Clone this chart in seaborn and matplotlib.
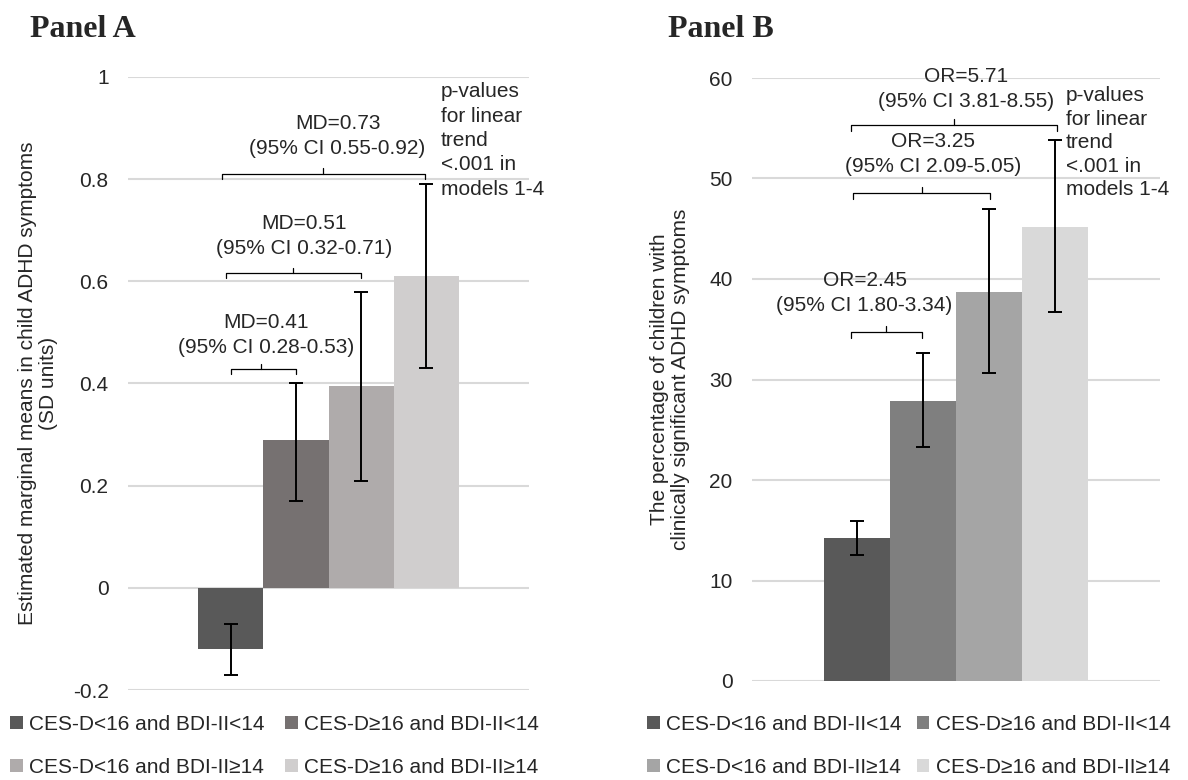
# =========================================
# Maternal depression groups vs child ADHD symptoms (Panels A and B)
# =========================================

import matplotlib
matplotlib.use("Agg")
import matplotlib.pyplot as plt
from matplotlib.patches import Patch
import numpy as np
import seaborn as sns

# =========================================
# Data
# =========================================

groups = [
    "CES-D<16 and BDI-II<14",
    "CES-D\u226516 and BDI-II<14",
    "CES-D<16 and BDI-II\u226514",
    "CES-D\u226516 and BDI-II\u226514",
]

# Panel A: estimated marginal means (SD units) with 95% CI
a_mean = [-0.12, 0.29, 0.395, 0.61]
a_low = [-0.17, 0.17, 0.21, 0.43]
a_high = [-0.07, 0.40, 0.58, 0.79]

# Panel B: % of children with clinically significant ADHD symptoms, 95% CI
b_mean = [14.2, 27.9, 38.7, 45.2]
b_low = [12.5, 23.3, 30.6, 36.7]
b_high = [15.9, 32.6, 47.0, 53.8]

a_effects = ["MD=0.41", "MD=0.51", "MD=0.73"]
a_cis = ["(95% CI 0.28-0.53)", "(95% CI 0.32-0.71)", "(95% CI 0.55-0.92)"]
b_effects = ["OR=2.45", "OR=3.25", "OR=5.71"]
b_cis = ["(95% CI 1.80-3.34)", "(95% CI 2.09-5.05)", "(95% CI 3.81-8.55)"]

a_ticks = [-0.2, 0, 0.2, 0.4, 0.6, 0.8, 1]
a_ticklabels = ["-0.2", "0", "0.2", "0.4", "0.6", "0.8", "1"]
b_ticks = [0, 10, 20, 30, 40, 50, 60]

trend_note = "p-values\nfor linear\ntrend\n<.001 in\nmodels 1-4"

colors_a = ["#595959", "#767171", "#AFABAB", "#D0CECE"]
colors_b = ["#595959", "#7F7F7F", "#A5A5A5", "#D9D9D9"]

# =========================================
# Style
# =========================================

sns.set_style("white")
plt.rcParams["font.family"] = ["Liberation Sans", "DejaVu Sans"]
FS = 15

fig = plt.figure(figsize=(11.88, 7.8), dpi=100)
ax_a = fig.add_axes([128 / 1188, 1 - 690 / 780, 401 / 1188, 613 / 780])
ax_b = fig.add_axes([752 / 1188, 1 - 681 / 780, 408 / 1188, 603 / 780])


def draw_panel(ax, mean, low, high, colors):
    sns.barplot(x=groups, y=mean, hue=groups, palette=colors, width=1.0,
                legend=False, ax=ax, edgecolor="none", saturation=1)
    m = np.array(mean)
    err = [m - np.array(low), np.array(high) - m]
    ax.errorbar(np.arange(len(groups)), m, yerr=err, fmt="none",
                ecolor="black", elinewidth=1.4, capsize=5, capthick=1.4)
    ax.set_xlim(-1.58, 4.58)
    ax.set_xticks([])
    ax.set_xlabel("")
    for s in ax.spines.values():
        s.set_visible(False)
    ax.grid(axis="y", color="#D9D9D9", linewidth=1.5)
    ax.set_axisbelow(True)
    ax.tick_params(axis="y", length=0, pad=14, labelsize=FS)


def bracket(ax, x0, x1, xc, y, d):
    ax.plot([x0, x0, x1, x1], [y - d, y, y, y - d], color="black", lw=0.9)
    ax.plot([xc, xc], [y, y + d], color="black", lw=0.9)


# =========================================
# Panel A
# =========================================

draw_panel(ax_a, a_mean, a_low, a_high, colors_a)
ax_a.set_ylim(-0.2, 1.0)
ax_a.set_yticks(a_ticks)
ax_a.set_yticklabels(a_ticklabels)
ax_a.set_ylabel("Estimated marginal means in child ADHD symptoms\n(SD units)",
                fontsize=FS, linespacing=1.1)
ax_a.yaxis.set_label_coords(-0.175, 0.5)

a_br = [(0, 1, 0.47, 0.429), (-0.08, 2.0, 0.96, 0.617), (-0.13, 2.99, 1.42, 0.811)]
a_txt = [(0.54, 0.451), (1.12, 0.646), (1.64, 0.841)]
for (x0, x1, xc, y), (tx, ty), eff, ci in zip(a_br, a_txt, a_effects, a_cis):
    bracket(ax_a, x0, x1, xc, y, 0.01)
    ax_a.text(tx, ty, eff + "\n" + ci, ha="center", va="bottom",
              multialignment="center", fontsize=FS, linespacing=1.4)
ax_a.text(3.23, 0.99, trend_note, ha="left", va="top", fontsize=FS,
          linespacing=1.36)

# =========================================
# Panel B
# =========================================

draw_panel(ax_b, b_mean, b_low, b_high, colors_b)
ax_b.set_ylim(0, 60)
ax_b.set_yticks(b_ticks)
ax_b.set_ylabel("The percentage of children with\nclinically significant ADHD symptoms",
                fontsize=FS, linespacing=1.1)
ax_b.yaxis.set_label_coords(-0.152, 0.5)

b_br = [(-0.08, 0.99, 0.45, 34.7), (-0.06, 2.02, 0.98, 48.6), (-0.08, 3.02, 1.47, 55.3)]
b_txt = [(0.12, 36.4), (1.15, 50.2), (1.65, 56.7)]
for (x0, x1, xc, y), (tx, ty), eff, ci in zip(b_br, b_txt, b_effects, b_cis):
    bracket(ax_b, x0, x1, xc, y, 0.6)
    ax_b.text(tx, ty, eff + "\n" + ci, ha="center", va="bottom",
              multialignment="center", fontsize=FS, linespacing=1.4)
ax_b.text(3.16, 59.2, trend_note, ha="left", va="top", fontsize=FS,
          linespacing=1.3)

# =========================================
# Titles and legends
# =========================================

for x, title in [(30, "Panel A"), (668, "Panel B")]:
    fig.text(x / 1188, 1 - 37 / 780, title, fontsize=23, fontweight="bold",
             family="Liberation Serif", va="baseline")

order = [0, 2, 1, 3]
for colors, x, gap in [(colors_a, 10, 1.0), (colors_b, 647, 0.75)]:
    handles = [Patch(facecolor=colors[i], edgecolor="none") for i in order]
    fig.legend(handles, [groups[i] for i in order], ncol=2, loc="upper left",
               bbox_to_anchor=(x / 1188, 1 - 715 / 780), frameon=False,
               fontsize=FS, handlelength=0.6, handleheight=0.6,
               handletextpad=0.3, columnspacing=gap, labelspacing=1.15,
               borderpad=0, borderaxespad=0)

plt.savefig("out.png", dpi=100)
